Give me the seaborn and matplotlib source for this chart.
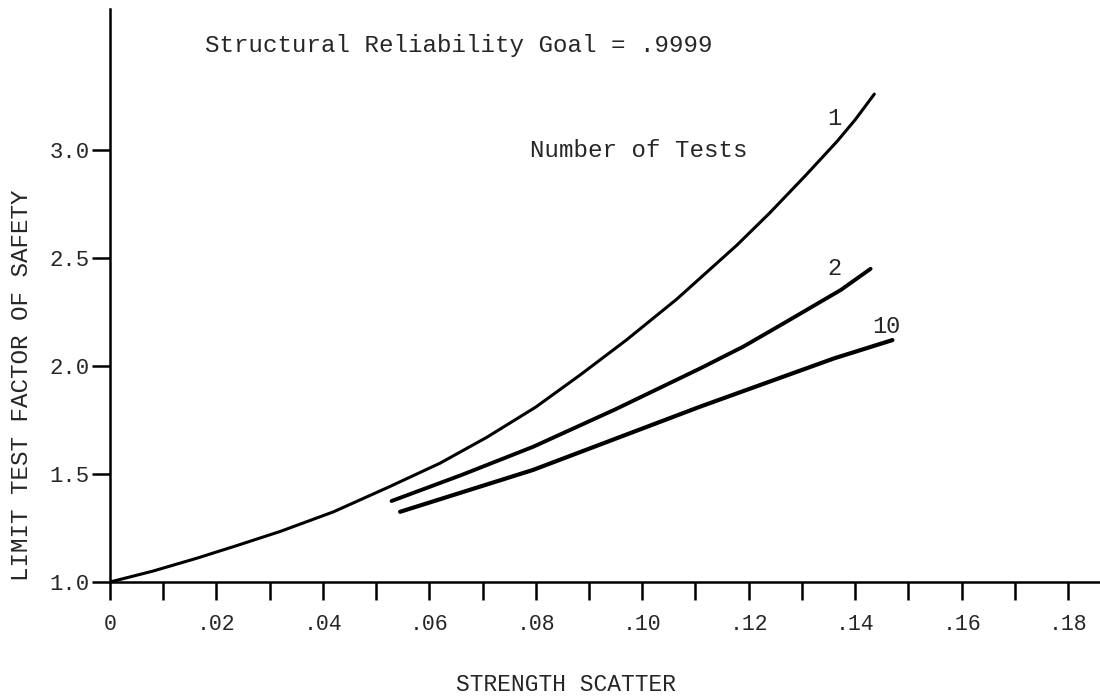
import pandas as pd
import matplotlib
matplotlib.use("Agg")
import matplotlib.pyplot as plt
from matplotlib.ticker import MultipleLocator
import seaborn as sns

# data
scatter_1 = [0.0, 0.008, 0.0163, 0.024, 0.0321, 0.042, 0.0524, 0.062, 0.0708, 0.080,
             0.0883, 0.097, 0.1065, 0.1178, 0.124, 0.1306, 0.1366, 0.140, 0.1436]
factor_1 = [1.0, 1.05, 1.11, 1.17, 1.235, 1.325, 1.44, 1.55, 1.67, 1.81,
            1.958, 2.12, 2.31, 2.56, 2.71, 2.88, 3.04, 3.14, 3.259]

scatter_2 = [0.0529, 0.066, 0.0795, 0.095, 0.1109, 0.119, 0.1266, 0.1373, 0.1429]
factor_2 = [1.375, 1.495, 1.626, 1.80, 1.989, 2.09, 2.198, 2.352, 2.45]

scatter_10 = [0.0545, 0.0795, 0.1109, 0.1360, 0.1470]
factor_10 = [1.325, 1.519, 1.812, 2.035, 2.120]

x_ticks = [0, 0.02, 0.04, 0.06, 0.08, 0.10, 0.12, 0.14, 0.16, 0.18]
x_tick_labels = ["0", ".02", ".04", ".06", ".08", ".10", ".12", ".14", ".16", ".18"]
y_ticks = [1.0, 1.5, 2.0, 2.5, 3.0]
y_tick_labels = ["1.0", "1.5", "2.0", "2.5", "3.0"]

sns.set_style("ticks")
plt.rcParams["font.family"] = ["Liberation Mono", "DejaVu Sans Mono"]

fig = plt.figure(figsize=(11, 6.96), dpi=100)
ax = fig.add_axes([0.1, 0.1638, 0.9, 0.8233])

for xs, ys, lw in [(scatter_1, factor_1, 2.2), (scatter_2, factor_2, 2.8), (scatter_10, factor_10, 3.0)]:
    df = pd.DataFrame({"scatter": xs, "factor": ys})
    sns.lineplot(data=df, x="scatter", y="factor", sort=False, color="black",
                 linewidth=lw, ax=ax, solid_capstyle="round")

ax.set_xlim(0, 0.186)
ax.set_ylim(1.0, 3.653)

sns.despine(ax=ax)
for side in ["left", "bottom"]:
    ax.spines[side].set_linewidth(1.8)
    ax.spines[side].set_color("black")

ax.set_xticks(x_ticks)
ax.set_xticklabels(x_tick_labels, fontsize=15.5)
ax.xaxis.set_minor_locator(MultipleLocator(0.01))
ax.set_yticks(y_ticks)
ax.set_yticklabels(y_tick_labels, fontsize=16)
ax.tick_params(axis="x", which="both", direction="out", length=13, width=1.8, pad=10,
               color="black", bottom=True, top=False)
ax.tick_params(axis="y", direction="out", length=13, width=1.8, pad=1.5, color="black")

ax.set_xlabel("STRENGTH SCATTER", fontsize=16.5)
ax.xaxis.set_label_coords((566 - 110) / 990, -(673 - 582) / 573)
ax.set_ylabel("LIMIT TEST FACTOR OF SAFETY", fontsize=17.5)
ax.yaxis.set_label_coords(-0.078, 0.344)

ax.text(0.01785, 3.486, "Structural Reliability Goal = .9999", fontsize=17.4,
        ha="left", va="center")
ax.text(0.0789, 3.0, "Number of Tests", fontsize=17.4, ha="left", va="center")
ax.text(0.1360, 3.147, "1", fontsize=17, ha="center", va="center")
ax.text(0.1361, 2.452, "2", fontsize=17, ha="center", va="center")
ax.text(0.1459, 2.182, "10", fontsize=17, ha="center", va="center")

plt.savefig("out.png", dpi=100)
